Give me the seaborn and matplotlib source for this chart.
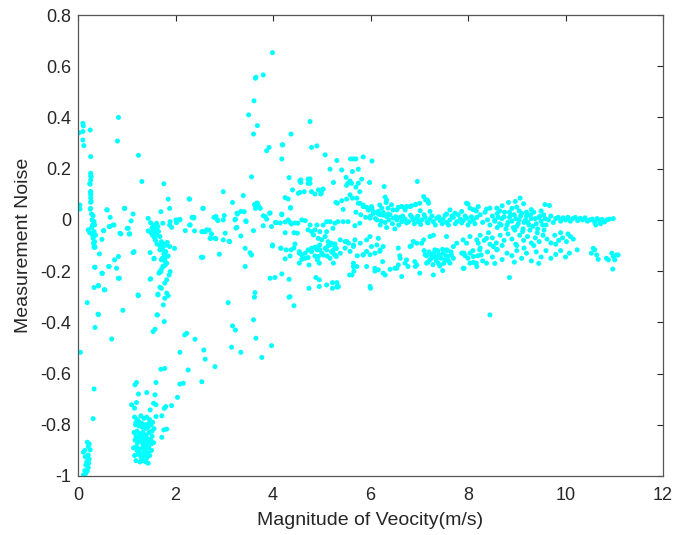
import matplotlib
matplotlib.use("Agg")
import matplotlib.pyplot as plt
import seaborn as sns
import pandas as pd

# ---- data (x = speed m/s, y = noise) ----
left_strip = [(0.02,0.34),(0.10,0.377),(0.11,0.367),(0.10,0.345),(0.10,0.312),(0.12,0.29),(0.25,0.351),(0.26,0.247),
 (0.26,0.182),(0.26,0.172),(0.26,0.156),(0.25,0.14),(0.26,0.108),(0.26,0.099),(0.26,0.086),(0.26,0.069),(0.25,0.042),
 (0.28,0.023),(0.04,0.058),(0.04,0.042),(0.27,0.169),(0.24,0.141),(0.26,0.111),(0.27,0.072),(0.26,0.045),(0.31,0.016),
 (0.33,-0.007),(0.34,-0.02),(0.21,-0.039),(0.24,-0.05),(0.33,-0.046),(0.31,-0.072),(0.34,-0.085),(0.33,-0.107),
 (0.33,-0.098),(0.35,-0.107),(0.44,-0.133),(0.34,-0.185),(0.35,-0.185),(0.49,-0.208),(0.50,-0.209),(0.33,-0.264),
 (0.42,-0.256),(0.42,-0.258),(0.55,-0.273),(0.54,-0.273),(0.19,-0.323),(0.41,-0.368),(0.42,-0.37),(0.35,-0.42),
 (0.05,-0.517),(0.33,-0.66),(0.31,-0.776),(0.53,-0.042),(0.49,-0.076),(0.52,-0.042),(0.28,-0.03),(0.30,-0.06),
 (0.29,0.0),(0.32,-0.09),(0.36,-0.06),(0.30,-0.02)]
bottom_strip = [(0.19,-0.868),(0.23,-0.875),(0.21,-0.885),(0.14,-0.90),(0.25,-0.898),(0.11,-0.907),(0.21,-0.918),
 (0.23,-0.934),(0.18,-0.944),(0.16,-0.957),(0.21,-0.967),(0.14,-0.979),(0.16,-0.99),(0.11,-0.996),(0.19,-0.98),
 (0.22,-0.95),(0.15,-0.925)]
sparse_low = [(0.59,0.039),(0.66,0.01),(0.72,-0.02),(0.64,-0.026),(0.60,0.039),(0.65,-0.026),(0.74,-0.02),(0.88,-0.055),
 (0.86,-0.052),(0.95,0.045),(0.96,0.045),(1.03,-0.033),(1.06,-0.055),(1.09,-0.004),(1.13,0.023),(1.15,-0.124),
 (0.75,-0.156),(0.83,-0.143),(0.63,-0.182),(0.79,-0.189),(0.83,-0.228),(0.64,-0.182),(0.85,-0.228),(1.13,-0.128),
 (1.24,-0.296),(1.23,-0.293),(1.48,-0.232),(1.49,-0.23),(0.92,-0.353),(0.69,-0.465),(0.83,0.40),(0.81,0.308),
 (1.24,0.252),(1.31,0.15),(1.01,-0.033),(1.05,-0.055)]
strip_16 = [(1.44,0.006),(1.49,-0.011),(1.44,-0.043),(1.54,-0.046),(1.61,-0.013),(1.64,-0.026),(1.57,-0.059),(1.68,-0.065),
 (1.71,-0.085),(1.74,-0.104),(1.78,-0.124),(1.81,-0.143),(1.76,-0.156),(1.74,-0.182),(1.70,-0.202),(1.79,-0.176),
 (1.56,-0.152),(1.71,-0.156),(1.68,-0.117),(1.76,-0.102),(1.83,-0.088),(1.88,-0.104),(1.98,-0.111),(1.52,-0.03),
 (1.55,-0.04),(1.58,-0.05),(1.60,-0.035),(1.62,-0.06),(1.57,-0.07),(1.53,-0.06),(1.59,-0.08),(1.65,-0.045),(1.50,-0.05),
 (1.56,-0.02),(1.70,0.032),(1.76,0.141),(1.85,0.081),(1.88,0.045),(1.88,-0.02),(2.02,-0.011),(2.09,0.002),(1.74,-0.013),
 (1.89,-0.007),(1.92,-0.029),(1.62,-0.094),(1.68,-0.101),(1.75,-0.094),(1.82,-0.098),(1.73,-0.114),(1.80,-0.124),
 (1.76,-0.133),(1.85,-0.141),(1.73,-0.15),(1.78,-0.159),(1.82,-0.169),(1.76,-0.18),(1.71,-0.193),(1.68,-0.202),
 (1.66,-0.208),(1.89,-0.202),(1.87,-0.215),(1.82,-0.234),(1.78,-0.247),(1.68,-0.263),(1.71,-0.267),(1.64,-0.29),
 (1.82,-0.286),(1.85,-0.296),(1.78,-0.306),(1.75,-0.332),(1.62,-0.371),(1.77,-0.397),(1.58,-0.427),(1.54,-0.436),
 (1.63,-0.371),(1.64,-0.293),(1.48,-0.128),(1.56,-0.15)]
cluster_low = [(1.17,-0.644),(1.20,-0.635),(1.24,-0.68),(1.10,-0.722),(1.16,-0.735),(1.20,-0.713),(1.41,-0.674),(1.58,-0.683),
 (1.55,-0.716),(1.48,-0.742),(1.60,-0.722),(1.72,-0.765),(1.76,-0.82),(1.82,-0.817),(1.72,-0.849),(1.60,-0.768),
 (1.16,-0.77),(1.22,-0.78),(1.29,-0.765),(1.35,-0.775),(1.41,-0.77),(1.47,-0.78),(1.53,-0.79),
 (1.18,-0.80),(1.25,-0.805),(1.31,-0.795),(1.38,-0.80),(1.44,-0.81),(1.50,-0.80),(1.56,-0.815),
 (1.15,-0.83),(1.21,-0.825),(1.27,-0.835),(1.33,-0.83),(1.40,-0.84),(1.46,-0.83),(1.52,-0.845),
 (1.17,-0.86),(1.24,-0.855),(1.30,-0.865),(1.36,-0.86),(1.42,-0.87),(1.49,-0.86),(1.55,-0.87),
 (1.14,-0.89),(1.20,-0.885),(1.26,-0.895),(1.32,-0.89),(1.38,-0.90),(1.45,-0.89),(1.51,-0.90),
 (1.16,-0.92),(1.23,-0.915),(1.29,-0.925),(1.35,-0.92),(1.41,-0.93),(1.47,-0.92),
 (1.19,-0.94),(1.27,-0.945),(1.33,-0.94),(1.39,-0.945),(1.44,-0.95),
 (1.19,-0.79),(1.26,-0.79),(1.32,-0.81),(1.39,-0.815),(1.45,-0.795),(1.52,-0.825),(1.19,-0.845),(1.28,-0.85),
 (1.34,-0.845),(1.43,-0.855),(1.50,-0.875),(1.22,-0.87),(1.33,-0.875),(1.40,-0.885),(1.27,-0.91),(1.36,-0.905),
 (1.44,-0.91),(1.21,-0.90),(1.31,-0.935),(1.42,-0.915)]
diagonal = [(2.09,-0.517),(2.19,-0.449),(2.23,-0.443),(2.40,-0.466),(2.58,-0.508),(2.61,-0.544),(2.81,-0.573),(2.26,-0.586),
 (2.54,-0.632),(2.16,-0.638),(2.09,-0.641),(2.04,-0.693),(1.92,-0.725),(1.80,-0.729),(1.77,-0.736),(1.70,-0.583),
 (1.78,-0.580),(1.60,-0.635),(3.08,-0.323),(3.17,-0.414),(3.23,-0.43),(3.15,-0.497),(3.34,-0.517),(3.60,-0.39),
 (3.65,-0.462),(3.77,-0.537),(3.97,-0.491),(3.63,-0.284),(3.62,-0.302),(2.90,-0.134),(2.56,-0.146),(3.43,-0.182),
 (3.53,-0.128),(3.56,-0.137),(3.94,-0.228),(4.04,-0.225),(3.99,-0.102),(4.18,-0.211),(4.16,-0.111),(4.27,-0.117),
 (4.37,-0.117),(4.45,-0.094),(4.54,-0.13),(4.25,-0.152),(4.35,-0.141),(4.33,-0.232),(4.33,-0.302),(4.43,-0.335),
 (4.35,-0.30),(2.53,-0.146),(2.20,-0.042),(2.29,-0.02),(2.38,0.010),(2.39,-0.043),(2.29,0.081),(2.56,0.045),(2.56,-0.046)]
mid_upper = [(4.76,0.384),(4.37,0.335),(4.20,0.293),(4.79,0.283),(4.90,0.289),(4.18,0.238),(5.07,0.254),(5.59,0.238),
 (5.65,0.238),(5.70,0.238),(5.85,0.246),(6.03,0.23),(5.31,0.232),(5.17,0.198),(5.41,0.195),(5.63,0.189),(5.75,0.198),
 (4.33,0.165),(4.57,0.156),(4.57,0.146),(4.76,0.16),(4.76,0.143),(5.24,0.146),(5.50,0.166),(5.58,0.152),(5.54,0.143),
 (5.61,0.143),(5.51,0.135),(5.82,0.159),(5.75,0.143),(5.70,0.128),(5.78,0.11),(5.98,0.146),(6.28,0.13),(6.96,0.15),
 (4.40,0.117),(4.25,0.087),(4.31,0.082),(4.52,0.104),(4.64,0.11),(4.79,0.11),(4.86,0.101),(5.02,0.12),(4.99,0.104),
 (5.29,0.068),(5.41,0.075),(5.58,0.098),(5.63,0.085),(5.51,0.081),(5.72,0.085),(5.78,0.065),(5.85,0.058),(4.36,0.046),
 (5.44,0.041),(5.92,0.049),(6.02,0.052),(5.96,0.039),(6.06,0.032),(6.19,0.058),(6.23,0.046),(6.30,0.089),(6.32,0.068),
 (6.36,0.046),(6.46,0.039),(6.36,0.023),(6.26,0.019),(6.16,0.023),(6.06,0.026),(6.57,0.049),(6.64,0.052),(6.74,0.052),
 (6.84,0.055),(6.93,0.061),(7.01,0.065),(7.09,0.091),(7.13,0.078),(7.18,0.072),(4.55,0.107),(4.93,0.117),(5.03,0.12),
 (4.98,0.101),(5.32,0.065),(4.72,0.159),(4.72,0.143),(3.56,0.168),(3.50,0.41),(3.68,0.368),(3.60,0.335),(4.19,0.293),
 (3.92,0.283),(3.87,0.27),(4.55,0.152),(3.99,0.653),(3.80,0.566),(3.64,0.553),(3.65,0.557),(3.61,0.465)]
near_zero = [(3.62,0.06),(3.66,0.05),(3.70,0.055),(3.64,0.045),(3.68,0.065),(4.36,0.048),(3.94,0.027),(4.18,0.023),
 (3.80,0.016),(3.87,0.003),(3.97,-0.026),(4.05,-0.01),(4.15,-0.012),(4.25,-0.008),(4.35,-0.01),(4.45,-0.012),
 (3.60,-0.042),(4.25,-0.05),(4.43,-0.05),(3.99,-0.098),(4.16,-0.11),(4.43,-0.11),(2.79,0.01),(2.87,-0.003),(3.0,0.017),
 (2.71,-0.072),(2.83,-0.074),(2.98,-0.078),(3.10,-0.083),(3.23,0.003),(3.27,0.023),(3.24,-0.032),(3.34,-0.063),
 (3.44,-0.004),(3.41,0.032),(2.54,-0.046),(2.61,-0.046),(2.69,-0.04),(2.74,-0.055),(2.34,0.01),(2.30,-0.02),(2.01,0.0),
 (2.28,0.082),(2.98,0.11),(3.17,0.068),(3.39,0.095),(2.57,0.045),(2.09,0.0),(2.37,0.007),(2.64,-0.039),(2.72,-0.072),
 (2.81,-0.072),(2.83,0.013),(2.86,0.0),(2.98,0.0),(3.02,-0.052),(3.11,-0.085),(3.22,0.0),(3.26,0.026),(3.34,0.033),
 (3.45,-0.007),(3.26,-0.029),(3.43,-0.111),(3.67,0.065),(3.74,0.045),(3.84,0.013),(3.80,-0.023),(3.93,0.026),
 (4.07,-0.011),(4.18,0.02),(4.31,0.0),(4.38,-0.016),(4.59,0.0),(4.66,-0.003),(4.51,-0.013),(4.76,-0.02),(4.90,-0.02),
 (5.03,-0.02),(5.10,-0.007),(4.86,-0.039),(4.96,-0.046),(5.10,-0.046),(5.23,-0.033),(5.33,-0.007),(4.50,-0.052),
 (4.72,-0.039),(4.79,-0.046)]
mid_lower = [(4.54,-0.124),(4.59,-0.137),(4.66,-0.13),(4.72,-0.117),(4.79,-0.111),(4.86,-0.107),(4.93,-0.104),(4.96,-0.117),
 (5.00,-0.13),(4.91,-0.156),(4.95,-0.169),(5.07,-0.111),(5.13,-0.101),(5.20,-0.091),(5.27,-0.094),(5.30,-0.112),
 (5.23,-0.13),(5.11,-0.141),(5.17,-0.15),(5.30,-0.143),(4.72,-0.147),(4.59,-0.154),(4.66,-0.15),(4.54,-0.169),
 (4.74,-0.176),(4.88,-0.225),(4.95,-0.234),(5.10,-0.254),(5.22,-0.245),(5.32,-0.263),(5.22,-0.267),(4.95,-0.26),
 (4.74,-0.267),(4.83,-0.059),(4.93,-0.072),(5.00,-0.078),(5.07,-0.065),(5.13,-0.085),(5.17,-0.098),(5.27,-0.104),
 (4.96,-0.098),(4.90,-0.117),(4.79,-0.124),(5.10,-0.117),(5.20,-0.124),(5.03,-0.137),(4.93,-0.143),(4.86,-0.141),
 (5.34,-0.26),(5.24,-0.169),(5.38,-0.13),(5.48,-0.11),(5.51,-0.084),(5.58,-0.123),(5.65,-0.098),(5.73,-0.14),
 (5.65,-0.182),(5.66,-0.2),(5.57,-0.215),(5.85,-0.136),(5.92,-0.123),(5.99,-0.136),(6.02,-0.104),(6.09,-0.13),
 (6.13,-0.098),(6.19,-0.123),(6.16,-0.195),(6.09,-0.2),(6.25,-0.163),(6.30,-0.215),(6.00,-0.267),(6.40,-0.193),
 (6.54,-0.189),(6.57,-0.11),(6.60,-0.14),(6.64,-0.221),(6.71,-0.169),(6.74,-0.156),(6.77,-0.182),(6.84,-0.101),
 (6.91,-0.163),(6.95,-0.176),(6.88,-0.084),(7.01,-0.208),(7.05,-0.091),(7.12,-0.136),(7.15,-0.169),(7.22,-0.156),
 (7.29,-0.215),(7.25,-0.136),(7.32,-0.117),(7.36,-0.149),(7.39,-0.169),(7.43,-0.143),(7.48,-0.198),(7.49,-0.13),
 (7.53,-0.156),(7.56,-0.117),(7.59,-0.143),(7.63,-0.169),(7.66,-0.136),(7.70,-0.104),(7.77,-0.091),(7.87,-0.13),
 (7.90,-0.189),(7.94,-0.14),(7.97,-0.091),(8.04,-0.13),(8.11,-0.166),(8.17,-0.169),(8.21,-0.091),(8.24,-0.117),
 (7.10,-0.12),(7.15,-0.14),(7.20,-0.125),(7.25,-0.15),(7.30,-0.13),(7.35,-0.16),(7.40,-0.135),(7.45,-0.15),(7.50,-0.17),
 (7.55,-0.14),(7.60,-0.16),(7.65,-0.125),(7.70,-0.15),(7.18,-0.165),(7.28,-0.175),(7.38,-0.12),(7.48,-0.115),
 (7.58,-0.12),(7.42,-0.18),(7.32,-0.145),(5.17,-0.091),(5.24,-0.117),(5.27,-0.137),(5.38,-0.078),(5.48,-0.085),
 (5.55,-0.091),(5.65,-0.104),(5.68,-0.078),(5.79,-0.091),(5.85,-0.137),(5.92,-0.078),(5.99,-0.065),(6.16,-0.072),
 (6.20,-0.117),(6.26,-0.104),(5.92,-0.182),(5.72,-0.182),(5.62,-0.215),(5.65,-0.169),(5.31,-0.245),(5.31,-0.26),
 (5.99,-0.26),(6.09,-0.189),(6.26,-0.208),(6.50,-0.189),(6.57,-0.176),(6.61,-0.15),(6.81,-0.104),(6.92,-0.182),
 (6.95,-0.091),(7.09,-0.078),(7.22,-0.065),(7.29,-0.06),(7.56,-0.065),(7.90,-0.078),(8.04,-0.065),(8.18,-0.078),
 (8.38,-0.072),(8.52,-0.104),(8.59,-0.117),(8.04,-0.169),(8.18,-0.182),(8.38,-0.169),(8.27,-0.137),(7.90,-0.13),
 (8.11,-0.143)]
band_zero = [(5.75,0.065),(5.85,0.052),(5.96,0.039),(6.03,0.046),(6.06,0.026),(6.16,0.033),(6.20,0.02),(6.26,0.029),
 (6.33,0.013),(6.40,0.02),(6.47,0.007),(6.54,0.0),(6.61,0.01),(6.64,-0.007),(6.71,0.003),(6.78,-0.007),(6.85,0.01),
 (6.88,0.0),(6.95,0.007),(6.98,-0.007),(7.05,0.0),(7.12,0.01),(7.16,-0.007),(7.22,0.003),(7.29,-0.007),(7.36,0.007),
 (7.43,-0.003),(7.49,0.003),(7.56,-0.01),(7.63,0.0),(7.70,0.01),(7.77,-0.007),(7.84,0.003),(7.90,-0.003),(7.97,0.007),
 (8.04,-0.007),(8.11,0.0),(8.18,0.01),(5.70,0.03),(5.80,0.02),(5.90,0.01),(6.00,0.015),(6.10,0.005),(6.22,-0.005),
 (6.30,-0.01),(6.38,0.0),(6.45,-0.015),(6.52,0.012),(6.58,-0.02),(6.66,0.015),(6.74,-0.012),(6.82,0.018),(6.90,-0.015),
 (6.97,0.015),(7.03,-0.018),(7.10,0.02),(7.18,-0.012),(7.26,0.015),(7.33,-0.02),(7.40,0.012),(7.47,-0.015),(7.53,0.018),
 (7.60,-0.02),(7.67,0.015),(7.74,-0.015),(7.80,0.02),(7.87,-0.012),(7.94,0.015),(8.00,-0.02),(8.07,0.012),(8.14,-0.015),
 (7.97,0.065),(8.04,0.046),(8.14,0.039),(8.21,0.052),(7.87,0.033),(7.63,0.039),(7.56,0.023),(7.73,0.026),(7.16,0.078),
 (7.19,0.065),(7.22,0.033),(7.02,0.036),(6.81,0.052),(6.92,0.059),(6.71,0.039),(6.64,0.052),(6.54,0.039),(6.43,0.059),
 (6.33,0.078),(5.17,-0.007),(5.27,-0.013),(5.44,-0.007),(5.54,-0.007),(5.68,-0.023),(5.78,-0.013),(5.99,0.007),
 (6.13,0.0),(6.20,-0.02),(6.33,-0.03),(6.50,-0.035)]
right_top = [(8.25,0.02),(8.30,-0.01),(8.35,0.03),(8.40,0.0),(8.45,-0.02),(8.50,0.015),(8.55,-0.005),(8.60,0.025),
 (8.65,-0.015),(8.70,0.005),(8.75,0.03),(8.80,-0.02),(8.85,0.01),(8.90,-0.005),(8.95,0.02),(9.00,-0.025),(9.05,0.0),
 (9.10,0.025),(9.15,-0.01),(9.20,0.015),(9.25,-0.02),(9.30,0.005),(9.35,0.03),(9.40,-0.015),(9.45,0.01),(9.50,-0.005),
 (9.55,0.02),(9.60,-0.02),(9.65,0.0),(9.70,0.015),(9.75,-0.01),(9.80,0.005),(9.85,0.01),(9.90,-0.005),(9.95,0.008),
 (10.00,0.0),(10.05,0.01),(10.10,-0.005),(10.15,0.005),(10.20,0.01),(10.25,-0.003),(10.30,0.006),(10.35,0.0),
 (10.40,0.008),(10.45,-0.005),(10.55,0.003),(10.60,-0.01),(10.65,0.005),(10.70,-0.005),(10.75,0.002),(10.80,-0.008),
 (10.85,0.0),(10.90,0.003),(10.98,0.005),(10.62,-0.02),(10.72,-0.015),(10.50,0.0),
 (9.07,0.085),(8.97,0.072),(8.83,0.068),(8.70,0.055),(8.59,0.046),(8.45,0.046),(8.38,0.042),(8.00,0.062),(8.10,0.04),
 (8.17,0.035),(9.14,0.063),(9.58,0.06),(9.67,0.056),(8.90,0.045),(9.30,0.04),(9.00,0.05),(8.65,0.035),(9.50,0.035),
 (8.55,0.0),(8.62,0.01),(8.68,-0.02),(8.74,0.012),(8.82,-0.01),(8.88,0.02),(8.93,-0.03),(8.98,0.005),(9.03,-0.015),
 (9.08,0.015),(9.13,-0.035),(9.18,0.0),(9.23,-0.01),(9.28,0.02),(9.33,-0.025),(9.38,0.005),(9.43,-0.035),(9.48,0.015),
 (9.53,-0.02),(9.58,0.005),(8.60,-0.03),(8.78,-0.035),(8.96,-0.04),(9.12,-0.045),(9.27,-0.04),(9.42,-0.05),(9.56,-0.04),
 (9.20,0.03),(9.05,0.035),(8.85,0.03)]
right_lower = [(8.25,-0.06),(8.33,-0.08),(8.42,-0.05),(8.50,-0.07),(8.58,-0.09),(8.66,-0.06),(8.74,-0.08),(8.82,-0.055),
 (8.90,-0.075),(8.98,-0.095),(9.06,-0.06),(9.14,-0.08),(9.22,-0.065),(9.30,-0.09),(9.38,-0.07),(9.46,-0.085),
 (9.54,-0.06),(9.62,-0.075),(9.70,-0.09),(9.78,-0.06),(9.86,-0.08),(9.94,-0.07),(10.02,-0.085),(10.10,-0.065),
 (10.16,-0.075),(8.70,-0.1),(9.00,-0.1),(9.35,-0.1),(9.80,-0.095),(9.90,-0.05),(10.05,-0.055),(8.45,-0.095),
 (7.92,-0.13),(8.00,-0.15),(8.10,-0.12),(8.20,-0.14),(8.30,-0.16),(8.40,-0.125),(8.50,-0.145),(8.60,-0.115),
 (8.70,-0.155),(8.80,-0.13),(8.90,-0.14),(9.00,-0.12),(9.10,-0.15),(9.20,-0.13),(9.30,-0.16),(9.40,-0.125),
 (9.50,-0.145),(9.60,-0.12),(9.70,-0.15),(9.80,-0.135),(9.90,-0.12),(10.00,-0.145),(10.08,-0.13),(8.55,-0.17),
 (8.95,-0.165),(9.45,-0.17),(8.25,-0.11),(9.15,-0.11),(10.24,-0.117),(7.92,-0.189),(8.85,-0.225),(8.45,-0.371),
 (10.57,-0.111),(10.60,-0.117),(10.53,-0.13),(10.64,-0.137),(10.67,-0.154),(10.84,-0.15),(10.88,-0.156),
 (10.95,-0.13),(10.98,-0.143),(11.05,-0.137),(11.08,-0.137),(11.01,-0.156),(10.97,-0.192)]

x_ticks = [0, 2, 4, 6, 8, 10, 12]
y_ticks = [-1, -0.8, -0.6, -0.4, -0.2, 0, 0.2, 0.4, 0.6, 0.8]
y_tick_labels = ["-1", "-0.8", "-0.6", "-0.4", "-0.2", "0", "0.2", "0.4", "0.6", "0.8"]

groups = [left_strip, bottom_strip, sparse_low, strip_16, cluster_low, diagonal,
          mid_upper, near_zero, mid_lower, band_zero, right_top, right_lower]
pts = [p for g in groups for p in g]
df = pd.DataFrame(pts, columns=["speed", "noise"])

sns.set_style("white")
plt.rcParams["font.family"] = ["Liberation Sans", "DejaVu Sans"]
text_c = "#262626"

fig = plt.figure(figsize=(6.75, 5.35), dpi=100)
ax = fig.add_axes([78/675, 1 - 476/535, 585/675, 461/535])
sns.scatterplot(data=df, x="speed", y="noise", ax=ax, color="#00FFFF",
                s=13, linewidth=0, edgecolor="none", alpha=1)

ax.set_xlim(0, 12)
ax.set_ylim(-1, 0.8)
ax.set_xticks(x_ticks)
ax.set_xticklabels([str(t) for t in x_ticks])
ax.set_yticks(y_ticks)
ax.set_yticklabels(y_tick_labels)
ax.tick_params(direction="in", length=4, width=0.8, colors=text_c, labelsize=13,
               top=True, right=True, labelcolor=text_c)
ax.tick_params(axis="y", pad=5)
ax.tick_params(axis="x", pad=8)
for sp in ax.spines.values():
    sp.set_color("#555555")
    sp.set_linewidth(0.9)
ax.set_xlabel("Magnitude of Veocity(m/s)", fontsize=14, color=text_c, labelpad=6)
ax.set_ylabel("Measurement Noise", fontsize=14, color=text_c, labelpad=6)

fig.savefig("out.png", dpi=100)
